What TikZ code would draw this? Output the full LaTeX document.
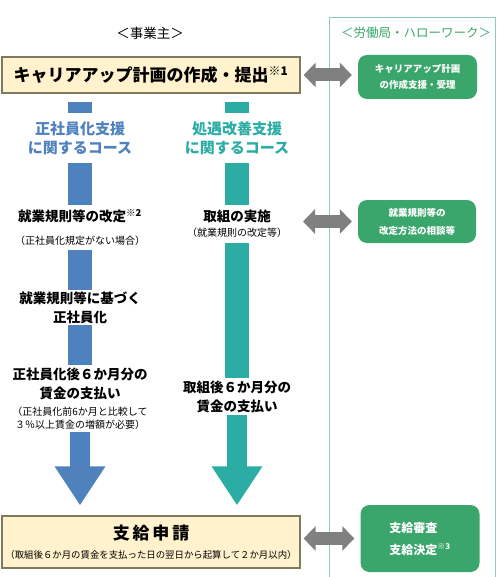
\documentclass[tikz,border=0pt]{standalone}
\usepackage{fontspec}
\setmainfont{Noto Sans CJK JP}
\usetikzlibrary{arrows.meta}

\definecolor{planfill}{HTML}{FFF2CC}
\definecolor{planedge}{HTML}{7F7A5E}
\definecolor{seiblue}{HTML}{4F81BD}
\definecolor{shoteal}{HTML}{2BACA5}
\definecolor{roukigreen}{HTML}{3AA66C}
\definecolor{panelline}{HTML}{8FCBB6}
\definecolor{midgray}{HTML}{808080}

\newcommand\notesize{\fontsize{10}{11}\selectfont\mdseries}

\begin{document}
\begin{tikzpicture}[x=1pt,y=-1pt,
  planbox/.style={draw=planedge,line width=1.2pt,fill=planfill,minimum width=298pt,inner sep=0pt,align=center},
  helpbox/.style={fill=roukigreen,rounded corners=9pt,text=white,inner sep=0pt,align=center},
  steptext/.style={inner sep=0pt,align=center,font=\fontsize{13.5}{19}\selectfont\bfseries},
  coursetext/.style={inner sep=0pt,align=center,minimum height=50pt,font=\fontsize{15}{19}\selectfont\bfseries},
  seibar/.style={draw=seiblue,line width=24pt},
  shobar/.style={draw=shoteal,line width=24pt},
  downarrow/.style={line width=20pt,-{Triangle[width=48pt,length=39pt]}},
  twoway/.style={draw=midgray,line width=13pt,{Triangle[width=24pt,length=12pt]}-{Triangle[width=24pt,length=12pt]}}
]
\useasboundingbox (0,0) rectangle (497,577);

\draw[panelline,line width=1pt] (329,577) -- (329,18) -- (495,18) -- (495,577);

\node (jigyo) at (150,33) {\fontsize{13.5}{15}\selectfont ＜事業主＞};
\node[text=roukigreen,font=\fontsize{12.5}{14}\selectfont] (rouki) at (416,33) {＜労働局・ハローワーク＞};

\node[planbox,minimum height=36pt,font=\fontsize{17}{20}\selectfont\bfseries] (plan) at (151,75) {キャリアアップ計画の作成・提出\textsuperscript{※1}};

% 正社員化
\node[coursetext,text=seiblue] (seicourse) at (80,138) {正社員化支援\\に関するコース};
\node[steptext,minimum height=45pt] (kitei) at (80,227.5) {就業規則等の改定\textsuperscript{※2}\\[4pt]\notesize （正社員化規定がない場合）};
\node[steptext,minimum height=35pt] (kisoku) at (80,307.5) {就業規則等に基づく\\正社員化};
\node[steptext,minimum height=67pt] (seichin) at (80,398.5) {正社員化後６か月分の\\賃金の支払い\\[-2pt]\notesize （正社員化前6か月と比較して\\[-6pt]\notesize ３％以上賃金の増額が必要）};

% 処遇改善
\node[coursetext,text=shoteal] (shocourse) at (237,138) {処遇改善支援\\に関するコース};
\node[steptext,minimum height=38pt] (jisshi) at (237,224) {取組の実施\\[-4pt]\notesize （就業規則の改定等）};
\node[steptext,minimum height=37pt] (shochin) at (237,396.5) {取組後６か月分の\\賃金の支払い};

\node[planbox,minimum height=52pt,font=\fontsize{9.4}{17}\selectfont] (apply) at (151,542) {{\fontsize{17}{20}\selectfont\bfseries 支\,給\,申\,請}\\[2pt]（取組後６か月の賃金を支払った日の翌日から起算して２か月以内）};

% 労働局
\node[helpbox,minimum width=119pt,minimum height=44pt,font=\fontsize{9.5}{16}\selectfont\bfseries] (support) at (417.5,77) {キャリアアップ計画\\の作成支援・受理};
\node[helpbox,minimum width=118pt,minimum height=43pt,font=\fontsize{9.5}{18}\selectfont\bfseries] (consult) at (417,221.5) {就業規則等の\\改定方法の相談等};
\node[helpbox,minimum width=119pt,minimum height=67pt,font=\fontsize{12}{22}\selectfont\bfseries,align=left] (decide) at (420,538.5) {支給審査\\支給決定\textsuperscript{※3}};
\coordinate (jisshiR) at (303,221.5);

\draw[seibar,shorten <=8pt] (seicourse.north |- plan.south) -- (seicourse.north);
\draw[seibar] (seicourse.south) -- (kitei.north);
\draw[seibar] (kitei.south) -- (kisoku.north);
\draw[seibar] (kisoku.south) -- (seichin.north);
\draw[downarrow,seiblue,shorten >=10pt] (seichin.south) -- (seichin.south |- apply.north);

\draw[shobar,shorten <=8pt] (shocourse.north |- plan.south) -- (shocourse.north);
\draw[shobar] (shocourse.south) -- (jisshi.north);
\draw[shobar] (jisshi.south) -- (shochin.north);
\draw[downarrow,shoteal,shorten >=10pt] (shochin.south) -- (shochin.south |- apply.north);

\draw[twoway,shorten <=3pt,shorten >=6pt] (plan.east) -- (plan.east -| support.west);
\draw[twoway,shorten >=6pt] (jisshiR) -- (consult.west);
\draw[twoway,shorten <=3pt,shorten >=6pt] (decide.west -| apply.east) -- (decide.west);

\end{tikzpicture}
\end{document}
